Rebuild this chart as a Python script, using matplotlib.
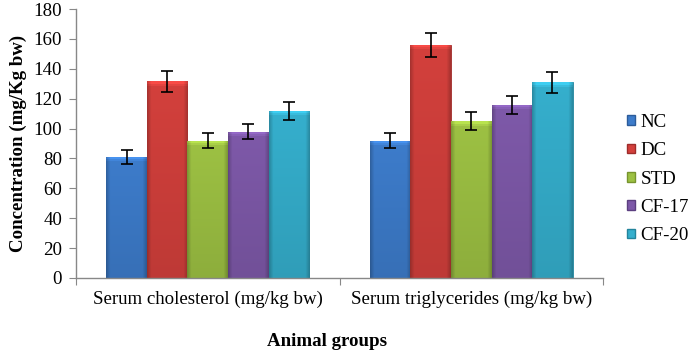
import matplotlib
matplotlib.use("Agg")
import matplotlib.pyplot as plt
import numpy as np
from matplotlib.patches import Patch
from matplotlib.colors import to_rgb

categories = ["Serum cholesterol (mg/kg bw)", "Serum triglycerides (mg/kg bw)"]
groups = ["NC", "DC", "STD", "CF-17", "CF-20"]
values = {
    "NC": [81, 92],
    "DC": [131.5, 156],
    "STD": [92, 105],
    "CF-17": [98, 116],
    "CF-20": [112, 131],
}
errors = {
    "NC": [4.5, 5],
    "DC": [7, 8],
    "STD": [5, 6],
    "CF-17": [5, 6],
    "CF-20": [6, 7],
}
colors = ["#3D7CCB", "#D3403C", "#9DC143", "#7E59A9", "#35AFCD"]
edges = ["#2C5C9A", "#9E2C2A", "#77942E", "#5C3F80", "#23849C"]

plt.rcParams['font.family'] = ['Liberation Serif', 'DejaVu Serif']
FS = 13.6

fig = plt.figure(figsize=(7, 3.54), dpi=100)
ax = fig.add_axes([76/700, 1-278/354, (603-76)/700, (278-9)/354])


def shade(patch, color):
    x0, y0 = patch.get_x(), patch.get_y()
    wd, ht = patch.get_width(), patch.get_height()
    base = np.array(to_rgb(color))
    ncol, nrow = 40, max(int(ht * 1.5), 10)
    u = np.linspace(0, 1, ncol)
    hf = np.ones(ncol)
    hf = np.where(u < 0.08, 0.80 + 2.0 * u, hf)
    hf = np.where(u > 0.92, 0.80 + 2.0 * (1 - u), hf)
    vf = np.ones(nrow)
    vf[:3] = 1.18
    vf[3:5] = 1.08
    v = np.linspace(0, 1, nrow)
    vf = vf * (1 - 0.10 * v)
    img = np.clip(base[None, None, :] * hf[None, :, None] * vf[:, None, None], 0, 1)
    im = ax.imshow(img, extent=(x0, x0 + wd, y0, y0 + ht), origin='upper',
                   aspect='auto', zorder=2, interpolation='bilinear')
    im.set_clip_path(patch)


x = np.arange(len(categories))
w = 0.154
for i, g in enumerate(groups):
    pos = x + (i - 2) * w
    bars = ax.bar(pos, values[g], width=w, color=colors[i], edgecolor=edges[i],
                  linewidth=0.6, zorder=2)
    for b in bars:
        shade(b, colors[i])
    ax.errorbar(pos, values[g], yerr=errors[g], fmt='none', ecolor='black',
                elinewidth=1.2, capsize=4, capthick=1.2, zorder=3)

ax.set_xlim(-0.5, 1.5)
ax.set_ylim(0, 180)
ax.set_yticks(np.arange(0, 181, 20))
ax.tick_params(axis='y', labelsize=FS, length=5, color='#888888', direction='out', pad=5)
ax.set_xticks([-0.5, 0.5, 1.5])
ax.set_xticklabels([])
ax.tick_params(axis='x', which='major', length=5, color='#888888', direction='out')
ax.set_xticks(x, minor=True)
ax.set_xticklabels(categories, minor=True, fontsize=FS)
ax.tick_params(axis='x', which='minor', length=0, pad=9)

for s in ['top', 'right']:
    ax.spines[s].set_visible(False)
for s in ['left', 'bottom']:
    ax.spines[s].set_color('#888888')
    ax.spines[s].set_linewidth(1.0)

ax.set_ylabel("Concentration (mg/Kg bw)", fontsize=FS, fontweight='bold', labelpad=5)
fig.text(327/700, 1-342/354, "Animal groups", ha='center', va='center',
         fontsize=FS, fontweight='bold')

handles = [Patch(facecolor=colors[i], edgecolor=edges[i], label=g) for i, g in enumerate(groups)]
fig.legend(handles=handles, loc='center left', bbox_to_anchor=(627/700, 1-179/354),
           frameon=False, fontsize=FS, handlelength=0.42, handleheight=0.42,
           handletextpad=0.3, labelspacing=0.6, borderaxespad=0, borderpad=0)

fig.savefig("out.png", dpi=100)
